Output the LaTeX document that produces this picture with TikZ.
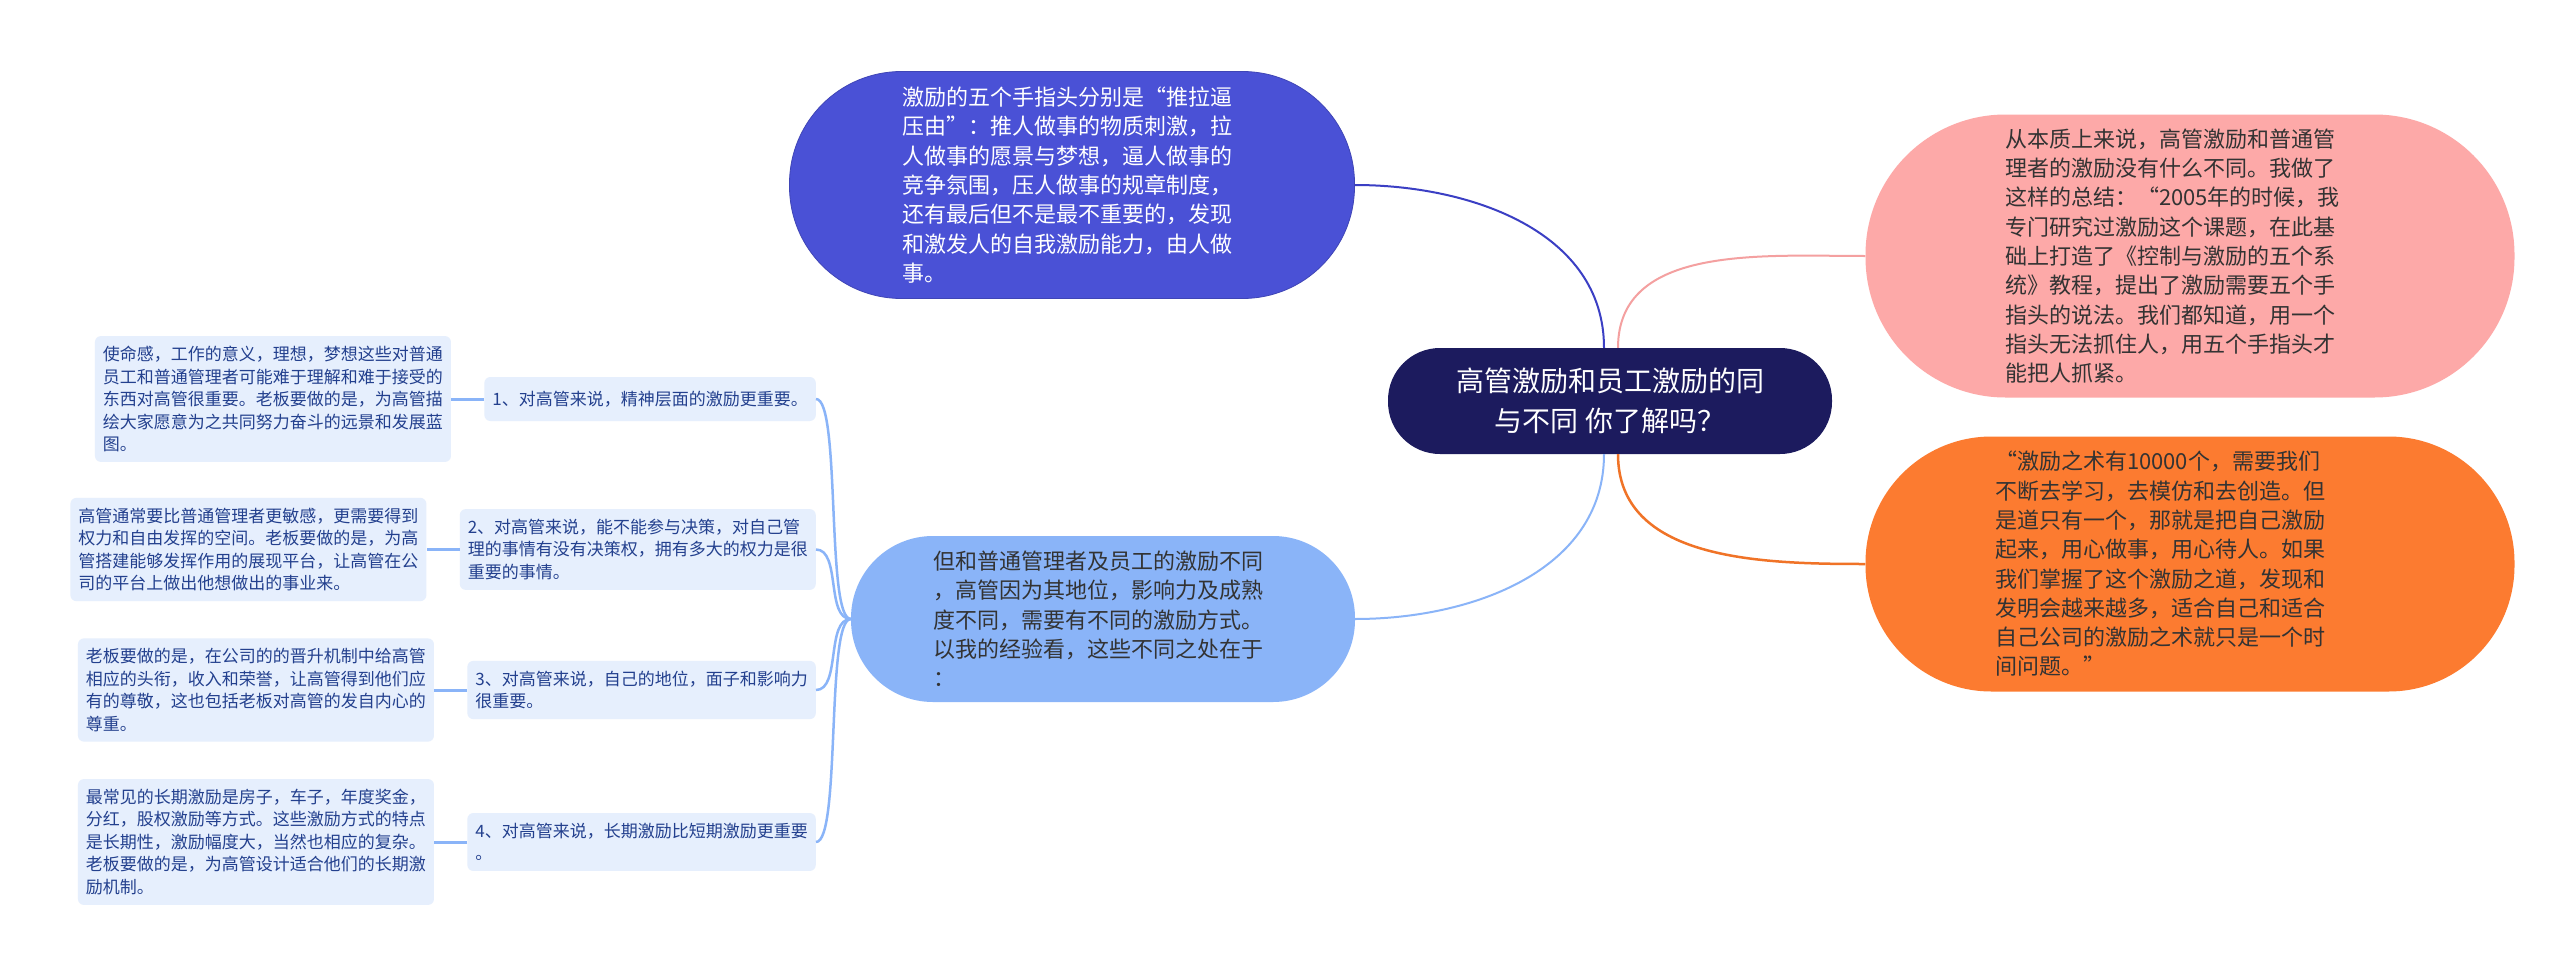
\documentclass[tikz,border=0pt]{standalone}
\usepackage{fontspec}
\usepackage{tikz}
\usetikzlibrary{positioning}
\newfontfamily\cjk{Noto Sans CJK SC}
\definecolor{rootfill}{HTML}{1C1B5E}
\definecolor{topfill}{HTML}{4A51D6}
\definecolor{pinkfill}{HTML}{FDA9A8}
\definecolor{orangefill}{HTML}{FC7B30}
\definecolor{lbfill}{HTML}{8AB4F8}
\definecolor{palefill}{HTML}{E6EFFD}
\definecolor{subtext}{HTML}{23408E}
\definecolor{darktext}{HTML}{333333}
\definecolor{toplink}{HTML}{3B3FC4}
\definecolor{pinklink}{HTML}{F4A0A0}
\definecolor{orangelink}{HTML}{F07327}
\tikzset{%
	root/.style   = {rectangle, rounded corners=52pt, fill=rootfill, text=white, align=center, minimum width=444pt, minimum height=106pt, font=\cjk\fontsize{28}{40}\selectfont},
	bubble/.style = {rectangle, align=left, text=darktext, font=\cjk\fontsize{22}{29.3}\selectfont},
	sub/.style    = {rectangle, rounded corners=6pt, fill=palefill, text=subtext, align=left, inner xsep=8pt, inner ysep=10pt, minimum height=44pt, font=\cjk\fontsize{17}{22.5}\selectfont},
	link/.style   = {line width=2pt},
}

\begin{document}
\begin{tikzpicture}[x=1pt,y=-1pt]
	\fill[white] (0,0) rectangle (2560,977);
	\useasboundingbox (0,0) rectangle (2560,977);
	
	\node[root] (ctr) at (1610,401) {高管激励和员工激励的同\\与不同 你了解吗？};
	
	\node[bubble, fill=topfill, draw=topfill!85!black, line width=0.8pt, text=white, rounded corners=112pt, text width=340pt, minimum width=565pt, minimum height=227pt] (five) at (1072,185) {激励的五个手指头分别是“推拉逼\\压由”：推人做事的物质刺激，拉\\人做事的愿景与梦想，逼人做事的\\竞争氛围，压人做事的规章制度，\\还有最后但不是最不重要的，发现\\和激发人的自我激励能力，由人做\\事。};
	\node[bubble, fill=pinkfill, rounded corners=140pt, text width=370pt, minimum width=649pt, minimum height=283pt] (same) at (2190,256) {从本质上来说，高管激励和普通管\\理者的激励没有什么不同。我做了\\这样的总结：“2005年的时候，我\\专门研究过激励这个课题，在此基\\础上打造了《控制与激励的五个系\\统》教程，提出了激励需要五个手\\指头的说法。我们都知道，用一个\\指头无法抓住人，用五个手指头才\\能把人抓紧。};
	\node[bubble, fill=orangefill, rounded corners=126pt, text width=390pt, minimum width=649pt, minimum height=255pt] (art) at (2190,564) {“激励之术有10000个，需要我们\\不断去学习，去模仿和去创造。但\\是道只有一个，那就是把自己激励\\起来，用心做事，用心待人。如果\\我们掌握了这个激励之道，发现和\\发明会越来越多，适合自己和适合\\自己公司的激励之术就只是一个时\\间问题。”};
	\node[bubble, fill=lbfill, rounded corners=82pt, text width=340pt, minimum width=504pt, minimum height=166pt] (diff) at (1103,619) {但和普通管理者及员工的激励不同\\，高管因为其地位，影响力及成熟\\度不同，需要有不同的激励方式。\\以我的经验看，这些不同之处在于\\：};
	
	\node[sub, anchor=east] (s1) at (816,399) {1、对高管来说，精神层面的激励更重要。};
	\node[sub, anchor=east] (s2) at (816,549.5) {2、对高管来说，能不能参与决策，对自己管\\理的事情有没有决策权，拥有多大的权力是很\\重要的事情。};
	\node[sub, anchor=east] (s3) at (816,690) {3、对高管来说，自己的地位，面子和影响力\\很重要。};
	\node[sub, anchor=east] (s4) at (816,842) {4、对高管来说，长期激励比短期激励更重要\\。};
	
	\node[sub, left=33pt of s1] (l1) {使命感，工作的意义，理想，梦想这些对普通\\员工和普通管理者可能难于理解和难于接受的\\东西对高管很重要。老板要做的是，为高管描\\绘大家愿意为之共同努力奋斗的远景和发展蓝\\图。};
	\node[sub, left=33pt of s2] (l2) {高管通常要比普通管理者更敏感，更需要得到\\权力和自由发挥的空间。老板要做的是，为高\\管搭建能够发挥作用的展现平台，让高管在公\\司的平台上做出他想做出的事业来。};
	\node[sub, left=33pt of s3] (l3) {老板要做的是，在公司的的晋升机制中给高管\\相应的头衔，收入和荣誉，让高管得到他们应\\有的尊敬，这也包括老板对高管的发自内心的\\尊重。};
	\node[sub, left=33pt of s4] (l4) {最常见的长期激励是房子，车子，年度奖金，\\分红，股权激励等方式。这些激励方式的特点\\是长期性，激励幅度大，当然也相应的复杂。\\老板要做的是，为高管设计适合他们的长期激\\励机制。};
	
	\draw[link, toplink] (five.east) to[out=0,in=90] ([xshift=-6pt]ctr.north);
	\draw[link, pinklink] ([xshift=8pt]ctr.north) to[out=90,in=180] (same.west);
	\draw[link, orangelink, line width=2.5pt] ([xshift=8pt]ctr.south) to[out=-90,in=180] (art.west);
	\draw[link, lbfill] ([xshift=-6pt]ctr.south) to[out=-90,in=0] (diff.east);
	
	\foreach \n in {1,...,4} {
		\draw[link, lbfill, line width=2.5pt] (diff.west) .. controls +(-25,0) and +(25,0) .. (s\n.east);
		\draw[link, lbfill, line width=3pt] (s\n.west) -- (l\n.east);
	}
\end{tikzpicture}
\end{document}
